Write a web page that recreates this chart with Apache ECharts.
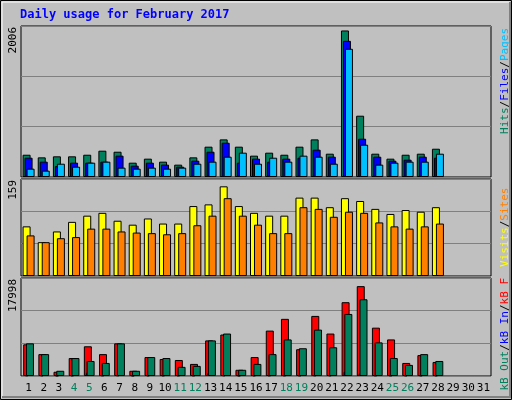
<!DOCTYPE html>
<html><head><meta charset="utf-8">
<script src="https://cdn.jsdelivr.net/npm/echarts@6/dist/echarts.min.js"></script>
<style>html,body{margin:0;padding:0;background:#c0c0c0}#c{width:512px;height:400px}</style>
</head><body><div id="c"></div>
<script>
const days = Array.from({length:31},(_,i)=>String(i+1));
const weekend = ['4','5','11','12','18','19','25','26'];
const hits  = [305,269,283,283,305,360,346,196,251,210,169,269,415,515,415,292,333,305,415,515,319,2006,839,319,251,305,319,387];
const files = [264,210,150,196,196,210,292,155,196,169,141,223,346,469,196,251,210,251,264,374,278,1864,524,278,223,237,278,264];
const pages = [114,87,182,141,196,210,128,114,128,114,128,182,210,278,333,182,264,210,292,278,182,1755,442,169,196,210,210,319];
const visits= [88,60,79,96,107,112,98,91,102,93,93,124,127,159,124,112,107,107,139,139,122,138,133,119,110,117,114,122];
const sites = [72,60,67,69,84,84,79,77,76,74,76,90,107,138,107,91,76,76,122,119,105,114,112,95,88,84,88,93];
const kbF   = [6344,4382,850,3597,5951,4382,6540,1046,3793,3401,3205,2420,7129,8306,1243,3793,9091,11445,5363,12034,8502,14780,17998,9679,7325,2616,4186,2812];
const kbIn  = [120,110,60,100,650,110,120,60,100,100,100,100,520,120,60,100,110,110,100,120,110,850,520,110,100,100,100,100];
const kbOut = [6540,4382,1046,3597,3008,2616,6540,1046,3793,3597,1831,2027,7129,8502,1243,2420,4382,7325,5559,9287,5755,12426,15369,6736,3597,2224,4382,3008];
const maxLabels = ['2006','159','17998'];

const mono = 'DejaVu Sans Mono';
const grids = [
  {left:21,right:21,top:26,height:151},
  {left:21,right:21,top:179,height:97},
  {left:21,right:21,top:278,height:98}
].map(g=>Object.assign(g,{show:true,backgroundColor:'#c0c0c0',borderColor:'#000',borderWidth:1}));
const xAxes = [0,1,2].map(i=>({type:'category',gridIndex:i,data:days,boundaryGap:true,
  axisLine:{show:false},axisTick:{show:false},
  axisLabel:{show:i===2,interval:0,margin:7,fontFamily:mono,fontSize:11,
    color:(v)=>weekend.includes(v)?'#00805c':'#000'}}));
const mk=(i,max)=>({type:'value',gridIndex:i,min:0,max:max,interval:max/3,
  axisLabel:{show:false},axisLine:{show:false},axisTick:{show:false},
  splitLine:{lineStyle:{color:'#808080',width:1}}});
const yAxes=[mk(0,2067),mk(1,172),mk(2,19627)];
const bs=(name,data,color,xi,gap,w)=>({name,type:'bar',xAxisIndex:xi,yAxisIndex:xi,data,
  barWidth:w||8,barGap:gap,itemStyle:{color,borderColor:'#000',borderWidth:1},animation:false});
const series=[
  bs('Hits',hits,'#00805c',0,'-75%'),
  bs('Files',files,'#0000ff',0,'-75%'),
  bs('Pages',pages,'#00c0ff',0,'-75%'),
  bs('Visits',visits,'#ffff00',1,'-50%'),
  bs('Sites',sites,'#ff8000',1,'-50%'),
  bs('KB F',kbF,'#ff0000',2,'-75%'),
  bs('KB In',kbIn,'#0000ff',2,'-75%',3),
  bs('KB Out',kbOut,'#00805c',2,'-75%')
];
series[6].barGap='-50%';
const sideText=(y,parts)=>({type:'text',x:505,y:y,rotation:Math.PI/2,
  style:{text:parts.map(p=>'{'+p[1]+'|'+p[0]+'}').join(''),rich:{
    a:{fill:'#00805c',fontFamily:mono,fontSize:11},b:{fill:'#0000ff',fontFamily:mono,fontSize:11},
    c:{fill:'#00c0ff',fontFamily:mono,fontSize:11},k:{fill:'#000',fontFamily:mono,fontSize:11},
    y:{fill:'#ffff00',fontFamily:mono,fontSize:11},o:{fill:'#ff8000',fontFamily:mono,fontSize:11},
    r:{fill:'#ff0000',fontFamily:mono,fontSize:11}},align:'right',verticalAlign:'middle'}});
const leftText=(y,t)=>({type:'text',x:13,y:y,rotation:Math.PI/2,
  style:{text:t,fill:'#000',fontFamily:mono,fontSize:11,align:'right',verticalAlign:'middle'}});
const chart=echarts.init(document.getElementById('c'));
chart.setOption({
  backgroundColor:'#c0c0c0',animation:false,
  grid:grids,xAxis:xAxes,yAxis:yAxes,series,
  graphic:[
    {type:'rect',shape:{x:0.5,y:0.5,width:511,height:399},style:{fill:'none',stroke:'#000',lineWidth:1}},
    {type:'polyline',shape:{points:[[2,398],[2,2],[510,2]]},style:{stroke:'#fff',lineWidth:1,fill:'none'}},
    {type:'polyline',shape:{points:[[2,397],[510,397],[510,2]]},style:{stroke:'#808080',lineWidth:2,fill:'none'}},
    {type:'text',x:20,y:9,style:{text:'Daily usage for February 2017',fill:'#0000ff',fontFamily:mono,fontSize:12,fontWeight:'bold'}},
    leftText(27,maxLabels[0]),leftText(180,maxLabels[1]),leftText(279,maxLabels[2]),
    sideText(28,[['Hits','a'],['/','k'],['Files','b'],['/','k'],['Pages','c']]),
    sideText(181,[['Visits','y'],['/','k'],['Sites','o'],['/','k'],['KB Out','a']]),
    {type:'text',x:505,y:181,rotation:Math.PI/2,style:{text:'',fill:'#000'}}
  ]
});
// correct the side labels: middle/bottom split as in reference
chart.setOption({graphic:[{},{},{},{},{},{},{},{},
  sideText(181,[['Visits','y'],['/','k'],['Sites','o'],[' ','k']]),
  sideText(278,[['kB Out','a'],['/','k'],['kB In','b'],['/','k'],['kB F','r']])]});
</script></body></html>
